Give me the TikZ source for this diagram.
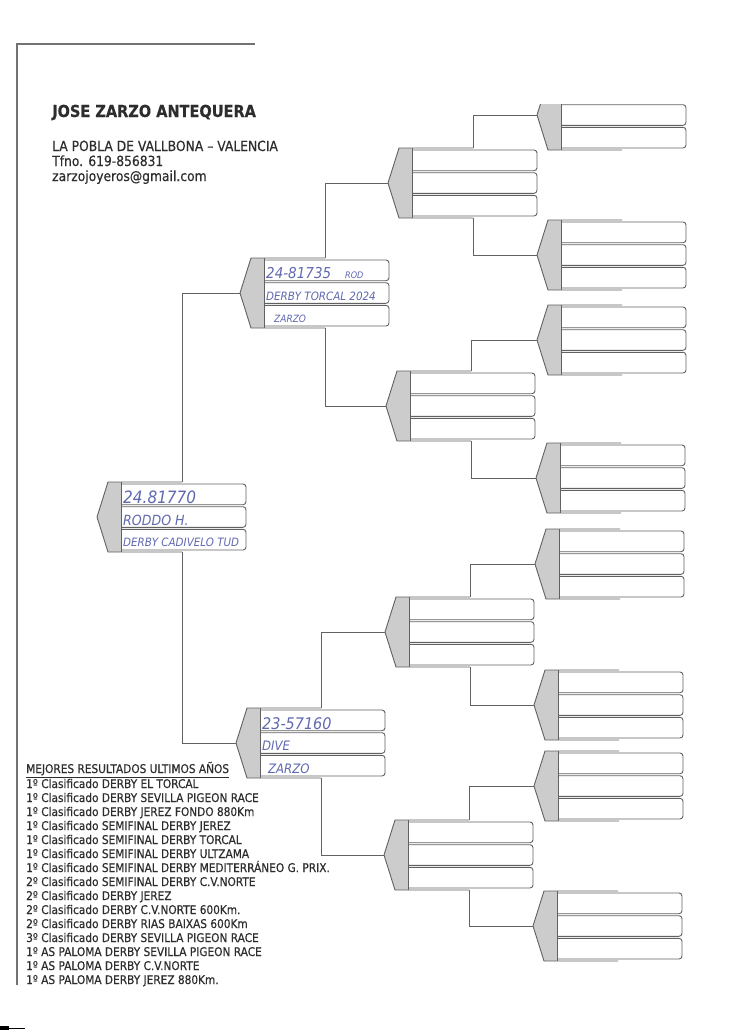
\documentclass[tikz,border=0pt]{standalone}
\usepackage{fontspec}
\setmainfont{DejaVu Sans}[FakeStretch=0.88, FakeBold=0.35]
\newfontfamily\penfont{DejaVu Sans}[FakeStretch=0.9]
\definecolor{ink}{RGB}{96,104,176}
\definecolor{toner}{RGB}{45,45,45}

\begin{document}
\begin{tikzpicture}[x=1pt, y=-1pt,
  frame/.style={draw=black!62, line width=0.9pt},
  link/.style={draw=black!62, line width=1pt},
  stipple/.style={fill=black!20},
  hand/.style={text=ink, anchor=west, inner sep=0pt, yshift=-3pt,
    font=\penfont\itshape\fontsize{#1}{#1}\selectfont},
  printed/.style={text=toner, anchor=base west, inner sep=0pt,
    font=\fontsize{#1}{#1}\selectfont},
  pedbox/.pic={
    % 灰色尖头与外框
    \fill[stipple] (0,0) -- (11,-35) -- (24,-35) -- (24,35) -- (11,35) -- cycle;
    \draw[frame] (85,-35) -- (11,-35) -- (0,0) -- (11,35) -- (85,35);
    % 三行
    \draw[frame, fill=white, rounded corners=3pt] (24,-33) -- (149,-33) -- (149,-12.3) -- (24,-12.3);
    \draw[frame, fill=white, rounded corners=3pt] (24,-10.3) -- (149,-10.3) -- (149,10.3) -- (24,10.3);
    \draw[frame, fill=white, rounded corners=3pt] (24,12.3) -- (149,12.3) -- (149,33) -- (24,33);
    \draw[frame] (24,-35) -- (24,35);
    \coordinate (-tip) at (0,0);
    \coordinate (-up) at (85,-35);
    \coordinate (-down) at (85,35);
    \coordinate (-r1) at (26,-22.7);
    \coordinate (-r2) at (26,0);
    \coordinate (-r3) at (26,22.7);
  }]
  \useasboundingbox (0,0) rectangle (750,1033);
  \fill[white] (0,0) rectangle (750,1033);

  % 页面边框
  \draw[black!55, line width=2.4pt] (17,985) -- (17,44);
  \draw[black!55, line width=1.1pt] (16,44) -- (255,44);
  \fill[black] (0,1026) rectangle (9,1030);
  \draw[black, line width=0.8pt] (9,1028) -- (25,1028);

  % 抬头
  \node[printed=16.5] (owner) at (52,117) {\bfseries JOSE ZARZO ANTEQUERA};
  \node[printed=14] (town) at (52,151) {LA POBLA DE VALLBONA – VALENCIA};
  \node[printed=14] (phone) at (52,166) {Tfno. 619-856831};
  \node[printed=14] (mail) at (52,181) {zarzojoyeros@gmail.com};

  % 第一代
  \pic (root) at (97,517) {pedbox};
  % 第二代
  \pic (sire) at (240,293) {pedbox};
  \pic (dam) at (236,743) {pedbox};
  % 第三代
  \pic (ss) at (388,183) {pedbox};
  \pic (sd) at (386,406) {pedbox};
  \pic (ds) at (385,632) {pedbox};
  \pic (dd) at (384,855) {pedbox};
  % 第四代（最上面一格被纸边截掉）
  \begin{scope}
    \clip (0,104) rectangle (750,1033);
    \pic (sss) at (537,115) {pedbox};
  \end{scope}
  \pic (ssd) at (537,255) {pedbox};
  \pic (sds) at (537,340) {pedbox};
  \pic (sdd) at (536,478) {pedbox};
  \pic (dss) at (535,564) {pedbox};
  \pic (dsd) at (534,705) {pedbox};
  \pic (dds) at (534,786) {pedbox};
  \pic (ddd) at (533,926) {pedbox};

  % 连线
  \draw[link] (root-up) |- (sire-tip);
  \draw[link] (root-down) |- (dam-tip);
  \draw[link] (sire-up) |- (ss-tip);
  \draw[link] (sire-down) |- (sd-tip);
  \draw[link] (dam-up) |- (ds-tip);
  \draw[link] (dam-down) |- (dd-tip);
  \draw[link] (ss-up) |- (sss-tip);
  \draw[link] (ss-down) |- (ssd-tip);
  \draw[link] (sd-up) |- (sds-tip);
  \draw[link] (sd-down) |- (sdd-tip);
  \draw[link] (ds-up) |- (dss-tip);
  \draw[link] (ds-down) |- (dsd-tip);
  \draw[link] (dd-up) |- (dds-tip);
  \draw[link] (dd-down) |- (ddd-tip);

  % 手写内容
  \node[hand=17] (rootring) at (root-r1) {24.81770};
  \node[hand=14] (rootname) at (root-r2) {RODDO H.};
  \node[hand=11.5] (rootrace) at (root-r3) {DERBY CADIVELO TUD};
  \node[hand=15] (sirering) at (sire-r1) {24-81735\hspace{14pt}{\fontsize{9}{9}\selectfont ROD}};
  \node[hand=11.5] (sirerace) at (sire-r2) {DERBY TORCAL 2024};
  \node[hand=10, xshift=8pt] (sireloft) at (sire-r3) {ZARZO};
  \node[hand=16] (damring) at (dam-r1) {23-57160};
  \node[hand=13] (damname) at (dam-r2) {DIVE};
  \node[hand=13, xshift=6pt] (damloft) at (dam-r3) {ZARZO};

  % 成绩
  \node[printed=12] (best) at (26,773) {\underline{MEJORES RESULTADOS ULTIMOS AÑOS}};
  \node[printed=12] (res1) at (26,788) {1º Clasificado DERBY EL TORCAL};
  \node[printed=12] (res2) at (26,802) {1º Clasificado DERBY SEVILLA PIGEON RACE};
  \node[printed=12] (res3) at (26,816) {1º Clasificado DERBY JEREZ FONDO 880Km};
  \node[printed=12] (res4) at (26,830) {1º Clasificado SEMIFINAL DERBY JEREZ};
  \node[printed=12] (res5) at (26,844) {1º Clasificado SEMIFINAL DERBY TORCAL};
  \node[printed=12] (res6) at (26,858) {1º Clasificado SEMIFINAL DERBY ULTZAMA};
  \node[printed=12] (res7) at (26,872) {1º Clasificado SEMIFINAL DERBY MEDITERRÁNEO G. PRIX.};
  \node[printed=12] (res8) at (26,886) {2º Clasificado SEMIFINAL DERBY C.V.NORTE};
  \node[printed=12] (res9) at (26,900) {2º Clasificado DERBY JEREZ};
  \node[printed=12] (res10) at (26,914) {2º Clasificado DERBY C.V.NORTE 600Km.};
  \node[printed=12] (res11) at (26,928) {2º Clasificado DERBY RIAS BAIXAS 600Km};
  \node[printed=12] (res12) at (26,942) {3º Clasificado DERBY SEVILLA PIGEON RACE};
  \node[printed=12] (res13) at (26,956) {1º AS PALOMA DERBY SEVILLA PIGEON RACE};
  \node[printed=12] (res14) at (26,970) {1º AS PALOMA DERBY C.V.NORTE};
  \node[printed=12] (res15) at (26,984) {1º AS PALOMA DERBY JEREZ 880Km.};
\end{tikzpicture}
\end{document}
